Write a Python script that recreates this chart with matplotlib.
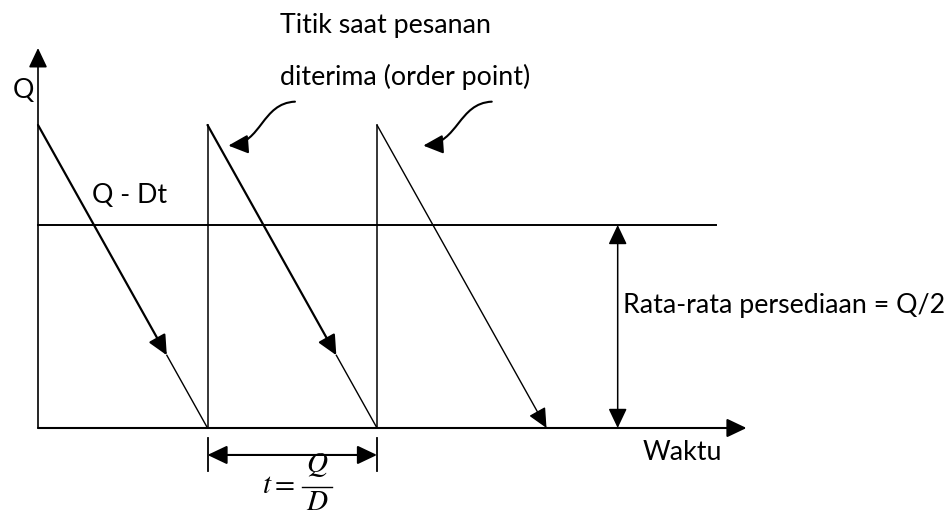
import matplotlib
matplotlib.use("Agg")
import matplotlib.pyplot as plt
from matplotlib.patches import FancyArrowPatch, ArrowStyle
from matplotlib.path import Path

# ---------------- data (conceptual units: time in cycles, stock in Q) ----------------
order_times = [0.0, 1.0, 2.0]        # order received -> stock jumps to Q
stockout_times = [1.0, 2.0, 3.0]     # stock reaches zero
Q_level = 1.0
avg_level = 0.67                     # drawn "average inventory" line
avg_line_end = 4.0
avg_marker_time = 3.42               # vertical double arrow position
time_axis_end = 4.18
q_axis_end = 1.254
mid_arrow_frac = 0.76                # where the mid-line arrowheads sit
dim_start, dim_end = 1.0, 2.0        # t = Q/D dimension
dim_level = -0.089
dim_tick_lo, dim_tick_hi = -0.142, -0.033

# annotation curls (data units)
curl1 = [(1.516, 1.077), (1.320, 1.072), (1.320, 0.940), (1.123, 0.932)]
curl2 = [(2.677, 1.077), (2.480, 1.072), (2.480, 0.940), (2.273, 0.932)]

label_q = "Q"
label_qdt = "Q - Dt"
label_title1 = "Titik saat pesanan"
label_title2 = "diterima (order point)"
label_avg = "Rata-rata persediaan = Q/2"
label_time = "Waktu"
formula_lhs = r"$t=$"
formula_num = r"$Q$"
formula_den = r"$D$"

# ---------------- figure ----------------
FONT = ["Lato", "DejaVu Sans"]
fig = plt.figure(figsize=(9.48, 5.19), dpi=100)
ax = fig.add_axes([0, 0, 1, 1])
ax.set_xlim(-38 / 169.5, (948 - 38) / 169.5)
ax.set_ylim((428 - 519) / 303, 428 / 303)
ax.axis("off")

head = ArrowStyle("-|>", head_length=0.4, head_width=0.19)
MS = 30


def arrow(p0, p1, lw, both=False):
    st = ArrowStyle("<|-|>", head_length=0.4, head_width=0.19) if both else head
    a = FancyArrowPatch(p0, p1, arrowstyle=st, mutation_scale=MS, lw=lw,
                        color="black", shrinkA=0, shrinkB=0, zorder=3)
    ax.add_patch(a)


# axes
arrow((0, 0), (0, q_axis_end), 1.2)
arrow((0, 0), (time_axis_end, 0), 1.5)

# sawtooth
for i, (t0, t1) in enumerate(zip(order_times, stockout_times)):
    if i > 0:
        ax.plot([t0, t0], [0, Q_level], color="black", lw=1.1)
    if i < 2:
        tm = t0 + (t1 - t0) * mid_arrow_frac
        qm = Q_level * (1 - mid_arrow_frac)
        arrow((t0, Q_level), (tm, qm), 1.6)
        ax.plot([tm, t1], [qm, 0], color="black", lw=1.0)
    else:
        arrow((t0, Q_level), (t1, 0), 1.0)

# average line and its dimension arrow
ax.plot([0, avg_line_end], [avg_level, avg_level], color="black", lw=1.4)
arrow((avg_marker_time, 0), (avg_marker_time, avg_level), 1.1, both=True)

# t = Q/D dimension
for x in (dim_start, dim_end):
    ax.plot([x, x], [dim_tick_lo, dim_tick_hi], color="black", lw=1.3)
arrow((dim_start, dim_level), (dim_end, dim_level), 1.5, both=True)

# curly pointers
for c in (curl1, curl2):
    path = Path(c, [Path.MOVETO, Path.CURVE4, Path.CURVE4, Path.CURVE4])
    p = FancyArrowPatch(path=path, arrowstyle=head, mutation_scale=MS, lw=1.5,
                        color="black", zorder=3)
    ax.add_patch(p)

# texts
fs = 19.3
ax.text(-0.147, 1.089, label_q, fontsize=fs, family=FONT, ha="left", va="baseline")
ax.text(0.319, 0.743, label_qdt, fontsize=fs, family=FONT, ha="left", va="baseline")
ax.text(1.428, 1.304, label_title1, fontsize=fs, family=FONT, ha="left", va="baseline")
ax.text(1.428, 1.132, label_title2, fontsize=fs, family=FONT, ha="left", va="baseline")
ax.text(3.451, 0.380, label_avg, fontsize=fs, family=FONT, ha="left", va="baseline")
ax.text(3.569, -0.106, label_time, fontsize=fs, family=FONT, ha="left", va="baseline")

# formula t = Q / D
mfs = 21
ax.text(1.322, -0.2145, formula_lhs, fontsize=mfs, math_fontfamily="stix",
        ha="left", va="baseline")
ax.plot([1.558, 1.735], [-0.195, -0.195], color="black", lw=1.0)
ax.text(1.646, -0.145, formula_num, fontsize=mfs, math_fontfamily="stix",
        ha="center", va="baseline")
ax.text(1.646, -0.272, formula_den, fontsize=mfs, math_fontfamily="stix",
        ha="center", va="baseline")

fig.savefig("out.png", dpi=100, facecolor="white")
